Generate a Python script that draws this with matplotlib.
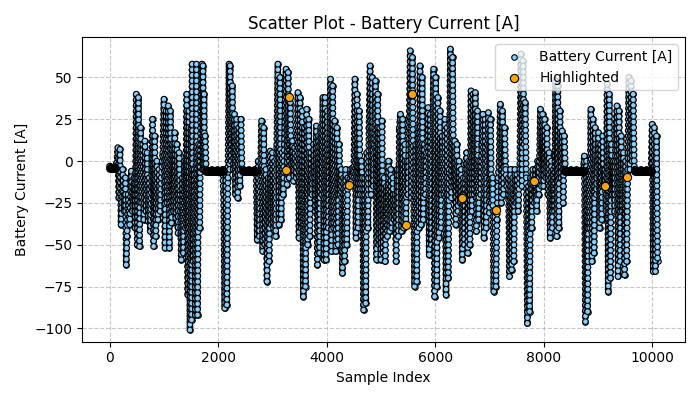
import matplotlib
matplotlib.use("Agg")
import matplotlib.pyplot as plt
import matplotlib.patheffects as pe

# ── signal turning points (sample index, current in A) ────
seg_a_idx = [0, 90, 130, 150, 170, 190, 210, 240, 270, 290,
             305, 320, 340, 370, 400, 420, 450, 470, 490, 510,
             530, 550, 570, 590, 610, 630, 650, 670, 690, 710,
             730, 750, 770, 790, 810, 830, 850, 870, 890, 910,
             930, 950, 980, 1000, 1020, 1040, 1060, 1080, 1100, 1120,
             1140, 1160, 1180]
seg_a_cur = [-3, -5, -1, 8, -22, 7, -38, -5, -30, -10,
             -62, -45, -20, -38, -6, -30, -10, -40, 40, -50,
             38, -51, 20, -25, 10, -35, 12, -30, 5, -36,
             -10, -42, -15, 25, -51, 15, -45, 0, -35, -5,
             -30, -10, 5, 37, -52, 30, -25, 33, -52, 30,
             -37, 10, -30]

seg_b_idx = [1200, 1220, 1240, 1260, 1280, 1300, 1320, 1340, 1360, 1380,
             1400, 1420, 1440, 1460, 1480, 1500, 1510, 1520, 1540, 1560,
             1580, 1600, 1620, 1640, 1660, 1680, 1700, 1710, 1720, 1730,
             1740, 1750, 1760, 1780, 2080, 2100, 2120, 2140, 2160, 2180,
             2200, 2210, 2220, 2240, 2260, 2280, 2300, 2320, 2340, 2360,
             2380, 2400, 2420, 2440, 2460]
seg_b_cur = [17, -34, 10, -43, 5, -20, -59, -10, -55, 0,
             -40, 40, -80, 30, -101, 20, -95, 58, -60, -5,
             -92, 58, -92, 10, -40, 30, 58, -5, 57, -5,
             40, -5, 15, -5, -5, -20, -88, -5, -86, -10,
             58, -5, 57, 0, 45, -5, 28, -20, 25, -22,
             20, -15, 25, -5, -5]

seg_c_idx = [2700, 2720, 2740, 2760, 2780, 2800, 2820, 2840, 2860, 2880,
             2900, 2920, 2940, 2960, 2980, 3000, 3020, 3040, 3060, 3080,
             3100, 3120, 3140, 3160, 3180, 3200, 3220, 3250, 3270, 3290,
             3310, 3330, 3350, 3370, 3390, 3410, 3440, 3470, 3490, 3510,
             3530, 3550, 3570, 3590, 3610, 3630, 3650, 3670, 3690, 3710,
             3730, 3760, 3790, 3810, 3830, 3850, 3870, 3890, 3910, 3930,
             3950]
seg_c_cur = [-5, -47, 0, -45, -5, 24, -54, 20, -50, -5,
             -72, -10, -60, 6, -38, 5, -40, 0, -45, 10,
             58, -38, 50, -35, 5, -20, 10, 55, -14, 53,
             -10, 35, -5, 12, -12, 8, -10, 41, -46, 38,
             -40, 30, -81, 20, -75, 31, -50, 25, -45, 5,
             -20, 10, -30, 21, -62, 15, -55, 20, -20, 38,
             -59]

seg_d_idx = [3970, 3990, 4010, 4030, 4050, 4070, 4090, 4110, 4130, 4150,
             4170, 4190, 4210, 4230, 4250, 4270, 4290, 4310, 4330, 4350,
             4370, 4390, 4420, 4440, 4460, 4480, 4500, 4520, 4540, 4560,
             4580, 4600, 4620, 4640, 4660, 4680, 4700, 4720, 4740, 4760,
             4780, 4800, 4820, 4840, 4860, 4880, 4900, 4920, 4940, 4960,
             4980, 5000, 5020, 5040, 5060, 5080, 5100, 5120, 5140, 5160,
             5180, 5200, 5220, 5240]
seg_d_cur = [38, -59, 30, -40, 0, 49, -54, 45, -40, 24,
             -54, 20, -50, 10, -20, -5, -67, -10, -60, -5,
             -50, -10, -14, -5, -12, -4, -10, 49, -46, 40,
             -40, 30, -20, 0, -10, -89, -10, -85, 5, -40,
             20, 57, -20, 50, -15, 10, 48, -59, 40, -50,
             20, -59, 24, -55, -10, -60, -15, -45, 0, -42,
             -5, -40, -10, -35]

seg_e_idx = [5260, 5280, 5300, 5320, 5340, 5360, 5380, 5400, 5420, 5440,
             5460, 5480, 5500, 5520, 5540, 5560, 5580, 5600, 5620, 5640,
             5660, 5680, 5700, 5720, 5740, 5760, 5780, 5800, 5820, 5840,
             5870, 5890, 5910, 5930, 5950, 5970, 5990, 6010, 6030, 6050,
             6070, 6090, 6110, 6130, 6160, 6180, 6200, 6220, 6240, 6260,
             6280, 6300, 6320, 6340, 6360, 6380, 6400, 6420, 6440, 6460,
             6480, 6500, 6520, 6540, 6560, 6580, 6600, 6620, 6640, 6660,
             6680, 6700, 6720]
seg_e_cur = [-20, -60, -5, -45, 20, 28, -42, 25, -40, 10,
             -38, 0, -20, 20, 66, -22, 62, -10, -75, 10,
             -72, 20, -40, 57, -38, 50, -35, 10, -20, 5,
             32, -56, 28, -50, 10, 55, -81, 50, -75, 38,
             -46, 30, -40, 15, -20, 25, -80, 20, -70, -5,
             67, -22, 62, -15, 12, -38, 10, -30, 0, -25,
             -5, -59, -10, -50, -5, 5, -55, 0, -50, 42,
             -30, 40, -20]

seg_f_idx = [6740, 6760, 6780, 6800, 6820, 6840, 6860, 6880, 6900, 6920,
             6940, 6960, 6980, 7000, 7020, 7040, 7060, 7080, 7100, 7120,
             7140, 7160, 7180, 7200, 7220, 7240, 7260, 7280, 7300, 7320,
             7350, 7370, 7390, 7410, 7430, 7450, 7470, 7490, 7510, 7530,
             7560, 7580, 7600, 7620, 7640, 7660, 7680, 7700, 7720, 7740,
             7760, 7780, 7800, 7830, 7850, 7870, 7890, 7910, 7940, 7960,
             7980, 8000, 8020, 8040, 8060, 8080, 8100]
seg_f_cur = [41, -42, 30, -35, 0, -20, 10, 28, -46, 25,
             -40, 10, 29, -31, 25, -25, -10, -78, -30, -75,
             -35, -10, 0, 34, -25, 30, -20, 20, -5, -15,
             -10, -69, -5, -65, -10, -60, -5, -25, -8, -30,
             -5, 64, -15, 60, 10, 35, -10, -97, -15, -90,
             -10, -40, -5, -25, -5, -30, 0, -20, 31, -15,
             28, -15, 25, -10, 20, -20, 5]

seg_g_idx = [8120, 8140, 8160, 8180, 8200, 8220, 8240, 8260, 8280, 8300,
             8320, 8340, 8360, 8380, 8400, 8730, 8750, 8770, 8790, 8810,
             8830, 8850, 8870, 8890, 8910, 8930, 8950, 8970, 8990, 9010,
             9030, 9050, 9070, 9090, 9110, 9130, 9150, 9170, 9190, 9210,
             9230, 9250, 9270, 9290, 9310, 9330, 9350, 9370, 9390, 9410,
             9430, 9450]
seg_g_cur = [-46, 0, -40, -5, -30, 48, -45, 45, -40, 30,
             -10, 18, -25, 15, -5, -5, 3, -96, 0, -90,
             -5, -40, 31, -60, 25, -55, 20, -20, 0, 17,
             -40, 10, -35, 15, -15, -5, -30, 46, -78, 40,
             -70, 10, -20, 0, -30, 20, 33, -69, 30, -60,
             15, -30]

seg_h_idx = [9470, 9490, 9510, 9530, 9550, 9570, 9590, 9610, 9630, 9650,
             9670, 9690, 9980, 10000, 10020, 10040, 10060, 10080, 10100]
seg_h_cur = [5, -68, 0, -60, -5, 50, -5, 48, 0, 40,
             -5, -5, -5, 22, -66, 20, -66, 15, -60]

# flat idle stretches (dense black band near -5 A)
idle_start = [0, 1770, 2460, 8390, 9680]
idle_end = [100, 2090, 2700, 8740, 9980]
idle_level = [-4, -6, -6, -6, -6]

# highlighted samples
hl_idx = [3247, 3300, 4410, 5461, 5578, 6489, 7128, 7829, 9133, 9545]
hl_cur = [-5.5, 38.5, -14, -38, 40, -22, -29, -12, -15, -9.5]

sample_idx = (seg_a_idx + seg_b_idx + seg_c_idx + seg_d_idx +
              seg_e_idx + seg_f_idx + seg_g_idx + seg_h_idx)
current = (seg_a_cur + seg_b_cur + seg_c_cur + seg_d_cur +
           seg_e_cur + seg_f_cur + seg_g_cur + seg_h_cur)
assert len(sample_idx) == len(current)

# ── plot ───────────────────────────────────────────────────────────────────────
fig, ax = plt.subplots(figsize=(7, 4), dpi=100)

ax.scatter(sample_idx, current, s=16, c="lightskyblue", edgecolors="black",
           linewidths=0.8, zorder=1, label="Battery Current [A]")

# dense samples between turning points: a chain of outlined dots per stroke
dot_style = dict(color="lightskyblue", lw=3.3, linestyle=(0, (0.01, 1.2)),
                 dash_capstyle="round",
                 path_effects=[pe.Stroke(linewidth=5.0, foreground="black"),
                               pe.Normal()])
for i in range(len(sample_idx) - 1):
    ax.plot(sample_idx[i:i + 2], current[i:i + 2], zorder=2, **dot_style)

ax.hlines(idle_level, idle_start, idle_end, colors="black", lw=6.5,
          capstyle="round", zorder=2.5)

ax.scatter(hl_idx, hl_cur, s=35, c="orange", edgecolors="black",
           linewidths=0.8, zorder=3, label="Highlighted")

ax.set_xlim(-505, 10605)
ax.set_ylim(-108, 74)
ax.set_title("Scatter Plot - Battery Current [A]")
ax.set_xlabel("Sample Index")
ax.set_ylabel("Battery Current [A]")
ax.grid(True, linestyle="--", alpha=0.7)
ax.legend(loc="upper right")

plt.tight_layout()
plt.savefig("out.png", dpi=100)
plt.close()
